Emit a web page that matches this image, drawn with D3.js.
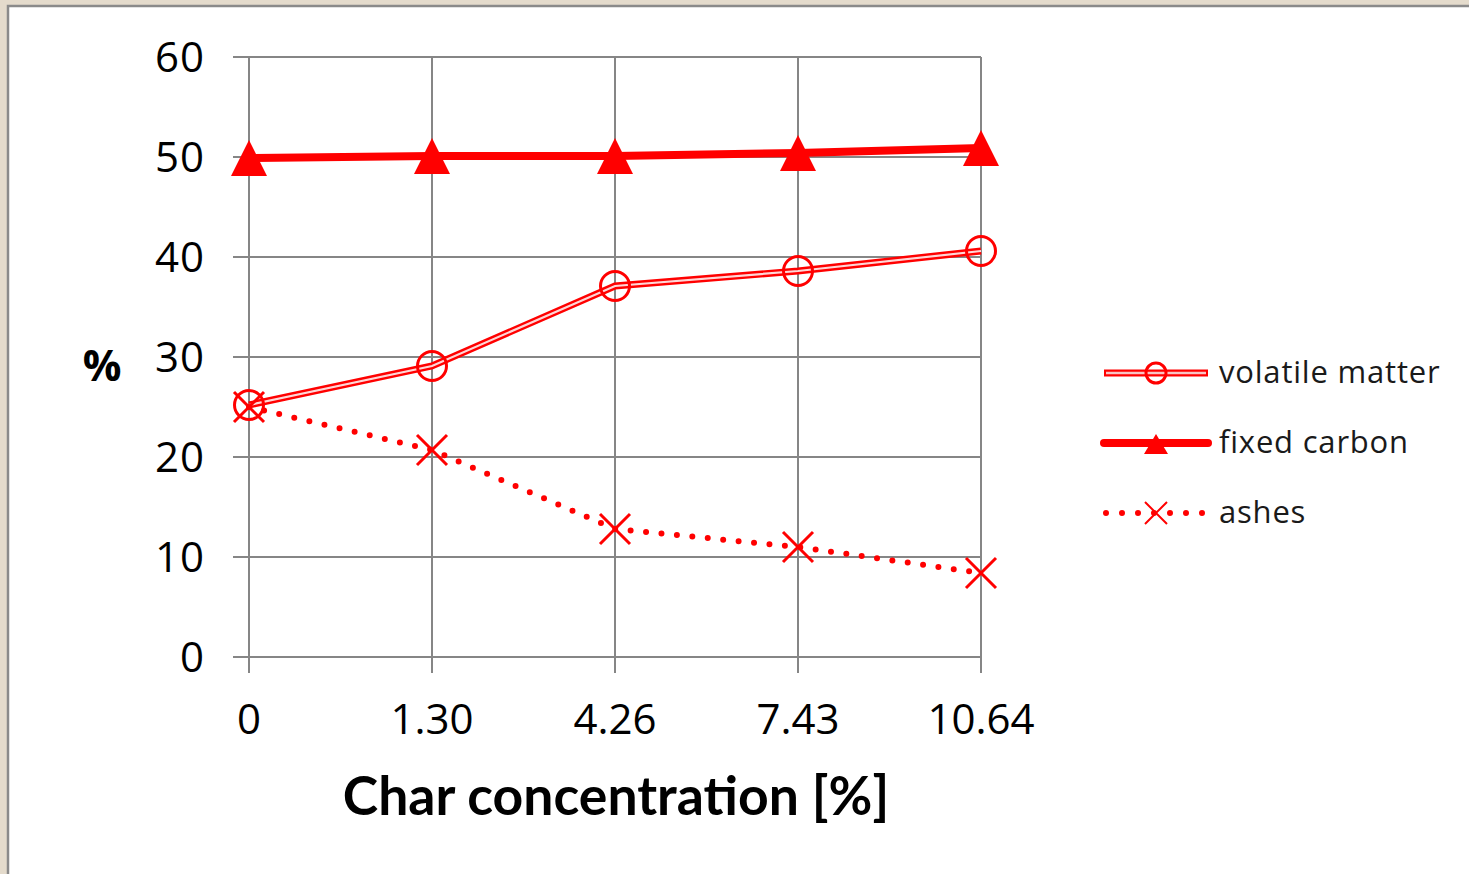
<!DOCTYPE html>
<html>
<head>
<meta charset="utf-8">
<script src="https://cdn.jsdelivr.net/npm/d3@7"></script>
<style>
  html, body { margin: 0; padding: 0; background: #e4dbcc; }
  svg { display: block; }
</style>
</head>
<body>
<svg id="chart" width="1469" height="874"></svg>
<script>
// Char concentration categories (x axis labels)
const categories = ["0", "1.30", "4.26", "7.43", "10.64"];
// Proximate analysis results, %
const volatileMatter = [25.2, 29.1, 37.1, 38.6, 40.6];
const fixedCarbon = [49.9, 50.1, 50.1, 50.4, 50.9];
const ashes = [25.0, 20.7, 12.8, 11.0, 8.4];
const yTicks = [0, 10, 20, 30, 40, 50, 60];
const seriesNames = ["volatile matter", "fixed carbon", "ashes"];

const svg = d3.select("#chart");
const red = "#ff0000";
const gridColor = "#868686";
const tickFont = "'Open Sans', sans-serif";

// Page panel with grey frame
svg.append("rect").attr("x", 0).attr("y", 0).attr("width", 1469).attr("height", 874).attr("fill", "#e4dbcc");
svg.append("rect").attr("x", 8).attr("y", 6).attr("width", 1470).attr("height", 880)
  .attr("fill", "#ffffff").attr("stroke", "#8a8a8a").attr("stroke-width", 2.5);

const x = d3.scalePoint().domain(categories).range([249, 981]);
const y = d3.scaleLinear().domain([0, 60]).range([657, 57]);

// Horizontal gridlines + y ticks
const grid = svg.append("g");
grid.selectAll("line.h").data(yTicks).join("line")
  .attr("x1", 233).attr("x2", x(categories[categories.length - 1]))
  .attr("y1", d => y(d)).attr("y2", d => y(d))
  .attr("stroke", gridColor).attr("stroke-width", 2);
// Vertical gridlines + x ticks
grid.selectAll("line.v").data(categories).join("line")
  .attr("x1", d => x(d)).attr("x2", d => x(d))
  .attr("y1", y(60)).attr("y2", y(0) + 16)
  .attr("stroke", gridColor).attr("stroke-width", 2);

// Y tick labels
svg.append("g").selectAll("text").data(yTicks).join("text")
  .attr("x", 205).attr("y", d => y(d))
  .attr("dy", "0.36em")
  .attr("text-anchor", "end")
  .attr("font-family", tickFont).attr("font-size", 42).attr("fill", "#000")
  .attr("letter-spacing", 1)
  .text(d => d);

// X tick labels
svg.append("g").selectAll("text").data(categories).join("text")
  .attr("x", d => x(d)).attr("y", 734)
  .attr("text-anchor", "middle")
  .attr("font-family", tickFont).attr("font-size", 42).attr("fill", "#000")
  .text(d => d);

// Axis titles
svg.append("text").attr("x", 616).attr("y", 815).attr("text-anchor", "middle")
  .attr("font-family", "Lato, sans-serif").attr("font-weight", "bold")
  .attr("font-size", 53.5).attr("fill", "#000")
  .text("Char concentration [%]");
svg.append("text").attr("x", 102).attr("y", 381).attr("text-anchor", "middle")
  .attr("font-family", tickFont).attr("font-weight", "bold")
  .attr("font-size", 43).attr("fill", "#000")
  .text("%");

const line = d3.line().x((d, i) => x(categories[i])).y(d => y(d));

// Marker shapes
function circleMarker(g, cx, cy, r) {
  g.append("circle").attr("cx", cx).attr("cy", cy).attr("r", r)
    .attr("fill", "none").attr("stroke", red).attr("stroke-width", 3);
}
function triangleMarker(g, cx, cy, w, h) {
  g.append("path")
    .attr("d", `M${cx},${cy - h / 2}L${cx + w / 2},${cy + h / 2}L${cx - w / 2},${cy + h / 2}Z`)
    .attr("fill", red);
}
function crossMarker(g, cx, cy, s, sw) {
  g.append("path")
    .attr("d", `M${cx - s / 2},${cy - s / 2}L${cx + s / 2},${cy + s / 2}M${cx + s / 2},${cy - s / 2}L${cx - s / 2},${cy + s / 2}`)
    .attr("stroke", red).attr("stroke-width", sw).attr("fill", "none");
}

const plot = svg.append("g");

// Volatile matter: double line with open circles
plot.append("path").datum(volatileMatter).attr("d", line)
  .attr("fill", "none").attr("stroke", red).attr("stroke-width", 7);
plot.append("path").datum(volatileMatter).attr("d", line)
  .attr("fill", "none").attr("stroke", "#ffd6d6").attr("stroke-width", 2.2);
volatileMatter.forEach((v, i) => circleMarker(plot, x(categories[i]), y(v), 14.5));

// Fixed carbon: heavy line with triangles
plot.append("path").datum(fixedCarbon).attr("d", line)
  .attr("fill", "none").attr("stroke", red).attr("stroke-width", 8);
fixedCarbon.forEach((v, i) => triangleMarker(plot, x(categories[i]), y(v), 36, 36));

// Ashes: round-dot line with crosses
plot.append("path").datum(ashes).attr("d", line)
  .attr("fill", "none").attr("stroke", red).attr("stroke-width", 6)
  .attr("stroke-linecap", "round").attr("stroke-dasharray", "0 15.5");
ashes.forEach((v, i) => crossMarker(plot, x(categories[i]), y(v), 30, 3));

// Legend
const legend = svg.append("g");
const legY = [373, 443, 513];
const lx1 = 1104, lx2 = 1208, lmid = 1156;
// volatile matter
legend.append("line").attr("x1", lx1).attr("x2", lx2).attr("y1", legY[0]).attr("y2", legY[0])
  .attr("stroke", red).attr("stroke-width", 7);
legend.append("line").attr("x1", lx1 + 2).attr("x2", lx2 - 2).attr("y1", legY[0]).attr("y2", legY[0])
  .attr("stroke", "#f7c4c4").attr("stroke-width", 2.5);
circleMarker(legend, lmid, legY[0], 10);
// fixed carbon
legend.append("line").attr("x1", lx1).attr("x2", lx2).attr("y1", legY[1]).attr("y2", legY[1])
  .attr("stroke", red).attr("stroke-width", 8).attr("stroke-linecap", "round");
triangleMarker(legend, lmid, legY[1] + 1, 24, 20);
// ashes
legend.append("line").attr("x1", lx1 + 2).attr("x2", lx2).attr("y1", legY[2]).attr("y2", legY[2])
  .attr("stroke", red).attr("stroke-width", 6).attr("stroke-linecap", "round")
  .attr("stroke-dasharray", "0 16");
crossMarker(legend, lmid, legY[2], 22, 2);

legend.selectAll("text").data(seriesNames).join("text")
  .attr("x", 1219).attr("y", (d, i) => legY[i])
  .attr("dy", "0.33em")
  .attr("font-family", tickFont).attr("font-size", 31).attr("fill", "#1a1a1a")
  .attr("letter-spacing", 0.8)
  .text(d => d);
</script>
</body>
</html>
